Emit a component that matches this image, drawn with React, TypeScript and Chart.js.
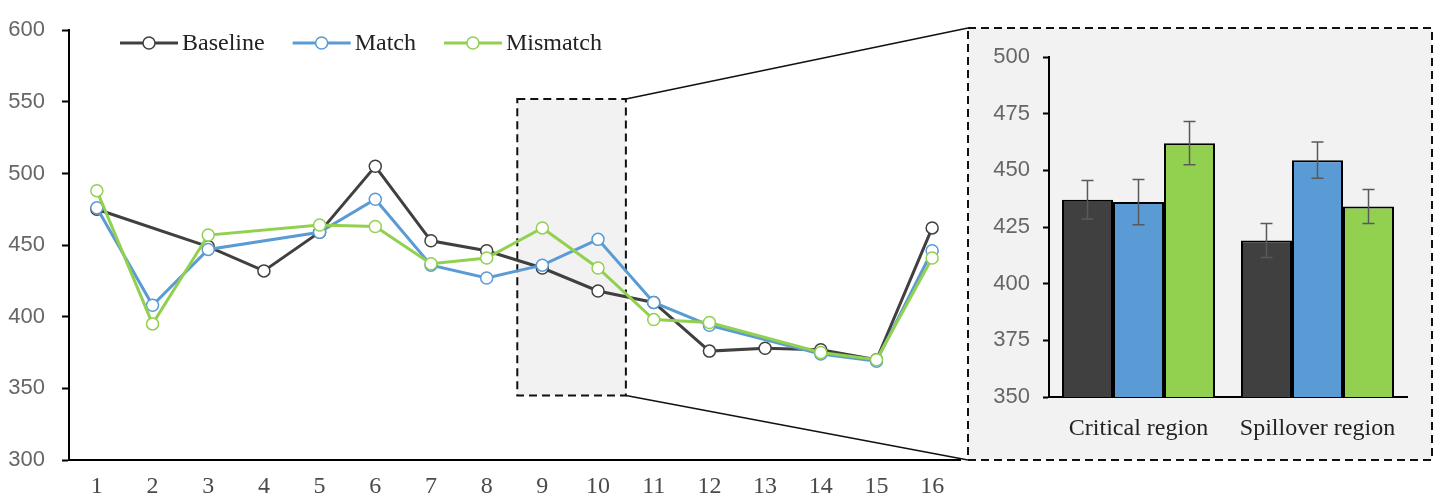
import React, { useEffect, useRef } from 'react';
import { Chart, registerables } from 'chart.js';

Chart.register(...registerables);

// ---------- DATA ----------
const positions = ['1', '2', '3', '4', '5', '6', '7', '8', '9', '10', '11', '12', '13', '14', '15', '16'];
const baselineRT = [475, null, 449, 432, 459, 505, 453, 446, 434, 418, 410, 376, 378, 377, 370, 462];
const matchRT = [476, 408, 447, null, 459, 482, 436, 427, 436, 454, 410, 394, null, 374, 369, 446];
const mismatchRT = [488, 395, 457, null, 464, 463, 437, 441, 462, 434, 398, 396, null, 375, 370, 441];
const mainYTicks = { min: 300, max: 600, step: 50 };

const regions = ['Critical region', 'Spillover region'];
const barBaseline = [437, 419];
const barMatch = [436, 454.5];
const barMismatch = [462, 434];
const errBaseline = [8.5, 7.5];
const errMatch = [10, 8];
const errMismatch = [9.5, 7.5];
const insetYTicks = { min: 350, max: 500, step: 25 };

const seriesNames = ['Baseline', 'Match', 'Mismatch'];
const seriesColors = ['#404040', '#5b9bd5', '#92d050'];

// ---------- LAYOUT (decoration) ----------
const W = 1440;
const H = 502;
const INSET = { left: 966, top: 26, width: 468, height: 436 };
const ZOOM_REGION = { xMin: 7.55, xMax: 9.5, yMin: 345, yMax: 552 };

const sansFont = 'Liberation Sans';
const serifFont = 'Liberation Serif';

export default function App() {
  const mainRef = useRef<HTMLCanvasElement | null>(null);
  const insetRef = useRef<HTMLCanvasElement | null>(null);

  useEffect(() => {
    if (!mainRef.current || !insetRef.current) return;

    const zoomBoxPlugin = {
      id: 'zoomBox',
      beforeDatasetsDraw(chart: any) {
        const { ctx, scales } = chart;
        const x1 = scales.x.getPixelForValue(ZOOM_REGION.xMin);
        const x2 = scales.x.getPixelForValue(ZOOM_REGION.xMax);
        const y1 = scales.y.getPixelForValue(ZOOM_REGION.yMax);
        const y2 = scales.y.getPixelForValue(ZOOM_REGION.yMin);
        ctx.save();
        ctx.fillStyle = '#f2f2f2';
        ctx.fillRect(x1, y1, x2 - x1, y2 - y1);
        ctx.setLineDash([8, 5]);
        ctx.lineWidth = 2;
        ctx.strokeStyle = '#111';
        ctx.strokeRect(x1, y1, x2 - x1, y2 - y1);
        ctx.restore();
      },
      afterDraw(chart: any) {
        const { ctx, scales } = chart;
        const x2 = scales.x.getPixelForValue(ZOOM_REGION.xMax);
        const y1 = scales.y.getPixelForValue(ZOOM_REGION.yMax);
        const y2 = scales.y.getPixelForValue(ZOOM_REGION.yMin);
        ctx.save();
        ctx.strokeStyle = '#111';
        ctx.lineWidth = 1.5;
        ctx.beginPath();
        ctx.moveTo(x2, y1);
        ctx.lineTo(INSET.left + 2, INSET.top + 2);
        ctx.moveTo(x2, y2);
        ctx.lineTo(INSET.left + 2, INSET.top + INSET.height - 2);
        ctx.stroke();
        ctx.restore();
      },
    };

    const legendPlugin = {
      id: 'customLegend',
      afterDraw(chart: any) {
        const ctx = chart.ctx;
        ctx.save();
        ctx.font = `24px "${serifFont}"`;
        ctx.textBaseline = 'middle';
        let x = 120;
        const y = 43;
        chart.data.datasets.forEach((ds: any) => {
          const color = ds.borderColor;
          ctx.strokeStyle = color;
          ctx.lineWidth = 3;
          ctx.beginPath();
          ctx.moveTo(x, y);
          ctx.lineTo(x + 58, y);
          ctx.stroke();
          ctx.beginPath();
          ctx.arc(x + 29, y, 6, 0, Math.PI * 2);
          ctx.fillStyle = '#fff';
          ctx.fill();
          ctx.lineWidth = 1.5;
          ctx.stroke();
          ctx.fillStyle = '#222';
          ctx.fillText(ds.label, x + 62, y + 1);
          x = x + 62 + ctx.measureText(ds.label).width + 28;
        });
        ctx.restore();
      },
    };

    const mkLine = (label: string, data: any[], color: string, order: number) => ({
      label,
      data,
      borderColor: color,
      backgroundColor: color,
      borderWidth: 3,
      pointRadius: 6,
      pointBorderWidth: 1.5,
      pointBackgroundColor: '#fff',
      pointBorderColor: color,
      tension: 0,
      spanGaps: true,
      order,
    });

    const mainChart = new Chart(mainRef.current, {
      type: 'line',
      data: {
        labels: positions,
        datasets: [
          mkLine(seriesNames[0], baselineRT, seriesColors[0], 3),
          mkLine(seriesNames[1], matchRT, seriesColors[1], 2),
          mkLine(seriesNames[2], mismatchRT, seriesColors[2], 1),
        ],
      },
      options: {
        responsive: false,
        animation: false,
        devicePixelRatio: 1,
        layout: { padding: { top: 25, right: W - 960, bottom: 0, left: 0 } },
        plugins: { legend: { display: false }, tooltip: { enabled: false } },
        scales: {
          x: {
            type: 'category',
            offset: true,
            grid: { display: false, drawTicks: false },
            border: { color: '#000', width: 2 },
            ticks: {
              color: '#4a4a4a',
              font: { family: serifFont, size: 24 },
              padding: 12,
              maxRotation: 0,
              autoSkip: false,
            },
            afterFit: (s: any) => { s.height = 42; },
          },
          y: {
            min: mainYTicks.min,
            max: mainYTicks.max,
            ticks: {
              stepSize: mainYTicks.step,
              color: '#666666',
              font: { family: sansFont, size: 22 },
              padding: 17,
            },
            grid: { drawOnChartArea: false, drawTicks: true, tickLength: 7, color: '#000', tickWidth: 2 },
            border: { color: '#000', width: 2 },
            afterFit: (s: any) => { s.width = 69; },
          },
        },
      } as any,
      plugins: [zoomBoxPlugin, legendPlugin],
    });

    const bgPlugin = {
      id: 'insetBg',
      beforeDraw(chart: any) {
        const ctx = chart.ctx;
        ctx.save();
        ctx.fillStyle = '#f2f2f2';
        ctx.fillRect(2, 2, INSET.width - 4, INSET.height - 4);
        ctx.setLineDash([8, 5]);
        ctx.lineWidth = 2;
        ctx.strokeStyle = '#111';
        ctx.strokeRect(2, 2, INSET.width - 4, INSET.height - 4);
        ctx.restore();
      },
    };

    const errs = [errBaseline, errMatch, errMismatch];
    const errorBarPlugin = {
      id: 'errorBars',
      afterDatasetsDraw(chart: any) {
        const { ctx, scales } = chart;
        ctx.save();
        ctx.strokeStyle = '#595959';
        ctx.lineWidth = 1.5;
        chart.data.datasets.forEach((ds: any, i: number) => {
          const meta = chart.getDatasetMeta(i);
          meta.data.forEach((el: any, j: number) => {
            const v = ds.data[j];
            const e = errs[i][j];
            const yt = scales.y.getPixelForValue(v + e);
            const yb = scales.y.getPixelForValue(v - e);
            ctx.beginPath();
            ctx.moveTo(el.x, yt);
            ctx.lineTo(el.x, yb);
            ctx.moveTo(el.x - 6, yt);
            ctx.lineTo(el.x + 6, yt);
            ctx.moveTo(el.x - 6, yb);
            ctx.lineTo(el.x + 6, yb);
            ctx.stroke();
          });
        });
        ctx.restore();
      },
    };

    const mkBar = (label: string, data: number[], color: string) => ({
      label,
      data,
      backgroundColor: color,
      borderColor: '#000',
      borderWidth: 2,
      categoryPercentage: 0.855,
      barPercentage: 1.0,
    });

    const insetChart = new Chart(insetRef.current, {
      type: 'bar',
      data: {
        labels: regions,
        datasets: [
          mkBar(seriesNames[0], barBaseline, seriesColors[0]),
          mkBar(seriesNames[1], barMatch, seriesColors[1]),
          mkBar(seriesNames[2], barMismatch, seriesColors[2]),
        ],
      },
      options: {
        responsive: false,
        animation: false,
        devicePixelRatio: 1,
        layout: { padding: { top: 31, right: 27, bottom: 0, left: 0 } },
        plugins: { legend: { display: false }, tooltip: { enabled: false } },
        scales: {
          x: {
            grid: { display: false, drawTicks: false },
            border: { color: '#000', width: 2 },
            ticks: {
              color: '#222',
              font: { family: serifFont, size: 24 },
              padding: 17,
              maxRotation: 0,
            },
            afterFit: (s: any) => { s.height = 65; },
          },
          y: {
            min: insetYTicks.min,
            max: insetYTicks.max,
            ticks: {
              stepSize: insetYTicks.step,
              color: '#666666',
              font: { family: sansFont, size: 22 },
              padding: 13,
            },
            grid: { drawOnChartArea: false, drawTicks: true, tickLength: 6, color: '#000', tickWidth: 2 },
            border: { color: '#000', width: 2 },
            afterFit: (s: any) => { s.width = 83; },
          },
        },
      } as any,
      plugins: [bgPlugin, errorBarPlugin],
    });

    return () => {
      mainChart.destroy();
      insetChart.destroy();
    };
  }, []);

  return (
    <div style={{ position: 'absolute', left: 0, top: 0, width: W, height: H, background: '#fff' }}>
      <canvas
        ref={mainRef}
        width={W}
        height={H}
        style={{ position: 'absolute', left: 0, top: 0, width: W, height: H }}
      />
      <canvas
        ref={insetRef}
        width={INSET.width}
        height={INSET.height}
        style={{ position: 'absolute', left: INSET.left, top: INSET.top, width: INSET.width, height: INSET.height }}
      />
    </div>
  );
}
